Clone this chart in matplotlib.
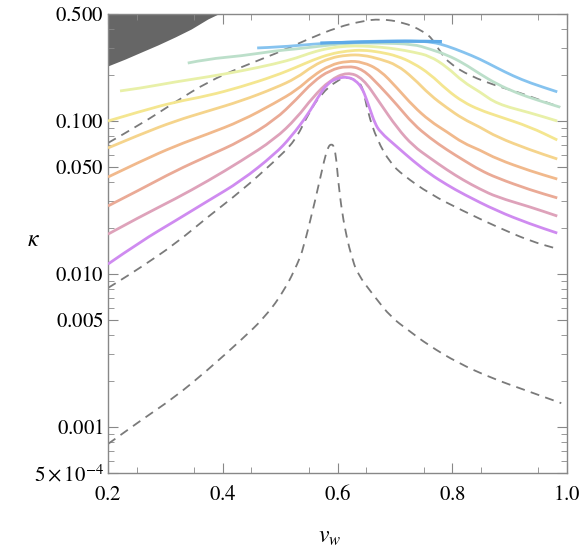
import numpy as np
import matplotlib
matplotlib.use("Agg")
import matplotlib.pyplot as plt
from matplotlib.ticker import FixedLocator, NullFormatter
from matplotlib.path import Path
from matplotlib.patches import PathPatch

plt.rcParams['mathtext.fontset'] = 'stix'
plt.rcParams['font.family'] = ['STIXGeneral', 'DejaVu Serif']

# ---------------- data ----------------
shade_x = [0.200, 0.230, 0.258, 0.287, 0.317, 0.345, 0.374, 0.392]
shade_y = [0.229, 0.254, 0.282, 0.314, 0.354, 0.399, 0.464, 0.500]

dash_up_x = [0.200, 0.258, 0.317, 0.374, 0.432, 0.491, 0.549, 0.601, 0.644, 0.674, 0.714, 0.749, 0.766, 0.779, 0.796, 0.831, 0.878, 0.913, 0.948, 0.988]
dash_up_y = [0.0718, 0.0955, 0.133, 0.180, 0.225, 0.274, 0.343, 0.411, 0.450, 0.464, 0.443, 0.387, 0.343, 0.282, 0.236, 0.197, 0.169, 0.155, 0.139, 0.123]

dash_mid_x = [0.200, 0.217, 0.258, 0.317, 0.374, 0.432, 0.491, 0.526, 0.549, 0.571, 0.600, 0.617, 0.634, 0.644, 0.653, 0.669, 0.692, 0.714, 0.761, 0.819, 0.878, 0.936, 0.983]
dash_mid_y = [0.0081, 0.00886, 0.0111, 0.0157, 0.0236, 0.0348, 0.0548, 0.0739, 0.111, 0.150, 0.185, 0.194, 0.183, 0.167, 0.113, 0.0751, 0.0531, 0.0443, 0.0333, 0.0258, 0.0203, 0.0164, 0.0146]

dash_low_x = [0.200, 0.258, 0.317, 0.374, 0.432, 0.474, 0.508, 0.531, 0.540, 0.561, 0.578, 0.584, 0.589, 0.594, 0.598, 0.601, 0.608, 0.617, 0.624, 0.634, 0.665, 0.693, 0.723, 0.758, 0.810, 0.868, 0.927, 0.990]
dash_low_y = [0.000774, 0.00111, 0.00157, 0.00236, 0.00370, 0.00523, 0.00785, 0.0118, 0.0145, 0.0300, 0.0581, 0.0680, 0.0707, 0.0685, 0.0560, 0.0411, 0.0250, 0.0167, 0.0133, 0.0101, 0.00707, 0.00523, 0.00430, 0.00343, 0.00262, 0.00209, 0.00174, 0.00143]

lightblue_x = [0.460, 0.500, 0.557, 0.617, 0.674, 0.732, 0.766, 0.791, 0.819, 0.848, 0.878, 0.906, 0.936, 0.983]
lightblue_y = [0.300, 0.304, 0.318, 0.328, 0.333, 0.333, 0.328, 0.309, 0.282, 0.254, 0.222, 0.197, 0.177, 0.155]

blue_x = [0.570, 0.650, 0.720, 0.782]
blue_y = [0.323, 0.328, 0.333, 0.330]

green_x = [0.339, 0.374, 0.432, 0.491, 0.526, 0.557, 0.617, 0.674, 0.732, 0.761, 0.791, 0.819, 0.848, 0.878, 0.913, 0.948, 0.988]
green_y = [0.239, 0.254, 0.266, 0.287, 0.295, 0.304, 0.323, 0.323, 0.318, 0.295, 0.270, 0.239, 0.203, 0.174, 0.152, 0.137, 0.123]

ygreen_x = [0.221, 0.258, 0.317, 0.374, 0.432, 0.491, 0.529, 0.557, 0.587, 0.617, 0.644, 0.674, 0.704, 0.732, 0.761, 0.791, 0.819, 0.848, 0.878, 0.936, 0.983]
ygreen_y = [0.157, 0.164, 0.180, 0.194, 0.212, 0.236, 0.258, 0.282, 0.300, 0.309, 0.309, 0.304, 0.295, 0.282, 0.266, 0.225, 0.180, 0.155, 0.129, 0.113, 0.0999]

yellow_x = [0.200, 0.258, 0.317, 0.374, 0.432, 0.491, 0.529, 0.557, 0.587, 0.617, 0.644, 0.674, 0.704, 0.732, 0.761, 0.791, 0.819, 0.848, 0.878, 0.936, 0.983]
yellow_y = [0.0999, 0.116, 0.133, 0.146, 0.167, 0.197, 0.225, 0.250, 0.274, 0.287, 0.291, 0.282, 0.266, 0.239, 0.203, 0.159, 0.133, 0.118, 0.108, 0.0913, 0.0751]

lorange_x = [0.200, 0.258, 0.317, 0.374, 0.432, 0.491, 0.529, 0.557, 0.587, 0.617, 0.644, 0.674, 0.704, 0.732, 0.761, 0.791, 0.819, 0.848, 0.878, 0.936, 0.983]
lorange_y = [0.0666, 0.0822, 0.0999, 0.116, 0.135, 0.164, 0.191, 0.229, 0.258, 0.270, 0.270, 0.254, 0.232, 0.191, 0.148, 0.1215, 0.103, 0.0913, 0.0785, 0.0646, 0.0564]

orange_x = [0.200, 0.258, 0.317, 0.374, 0.432, 0.491, 0.529, 0.557, 0.587, 0.617, 0.644, 0.674, 0.704, 0.732, 0.761, 0.791, 0.819, 0.848, 0.878, 0.936, 0.983]
orange_y = [0.0430, 0.0547, 0.0686, 0.0822, 0.0999, 0.131, 0.159, 0.197, 0.232, 0.2465, 0.243, 0.215, 0.164, 0.125, 0.0999, 0.0847, 0.0717, 0.0646, 0.0564, 0.0471, 0.0417]

salmon_x = [0.200, 0.258, 0.317, 0.374, 0.432, 0.491, 0.529, 0.557, 0.587, 0.617, 0.644, 0.674, 0.704, 0.732, 0.761, 0.791, 0.819, 0.848, 0.878, 0.936, 0.983]
salmon_y = [0.0278, 0.0359, 0.0471, 0.0590, 0.0740, 0.1015, 0.139, 0.180, 0.215, 0.229, 0.2185, 0.169, 0.127, 0.0955, 0.0774, 0.0646, 0.0556, 0.0478, 0.0424, 0.0354, 0.0314]

pink_x = [0.200, 0.258, 0.317, 0.374, 0.432, 0.491, 0.529, 0.557, 0.587, 0.617, 0.644, 0.674, 0.704, 0.732, 0.761, 0.791, 0.819, 0.848, 0.878, 0.936, 0.983]
pink_y = [0.0182, 0.0239, 0.0309, 0.0405, 0.0547, 0.0762, 0.1045, 0.143, 0.185, 0.209, 0.191, 0.131, 0.0899, 0.0686, 0.0573, 0.0478, 0.0411, 0.0359, 0.0318, 0.0274, 0.0239]

purple_x = [0.200, 0.258, 0.317, 0.374, 0.432, 0.491, 0.519, 0.549, 0.566, 0.583, 0.601, 0.617, 0.631, 0.643, 0.651, 0.657, 0.665, 0.674, 0.704, 0.732, 0.761, 0.791, 0.819, 0.878, 0.936, 0.983]
purple_y = [0.0116, 0.0164, 0.0222, 0.0300, 0.0405, 0.0608, 0.0785, 0.111, 0.143, 0.177, 0.191, 0.194, 0.185, 0.164, 0.137, 0.118, 0.097, 0.0847, 0.0676, 0.0547, 0.0450, 0.0382, 0.0333, 0.0258, 0.0212, 0.0185]

ytick_vals = [0.0005, 0.001, 0.005, 0.01, 0.05, 0.1, 0.5]
ytick_labels = [r'$\mathit{5}\times\mathit{10}^{\mathit{-4}}$', r'$\mathit{0.001}$', r'$\mathit{0.005}$',
                r'$\mathit{0.010}$', r'$\mathit{0.050}$', r'$\mathit{0.100}$', r'$\mathit{0.500}$']
xtick_vals = [0.2, 0.4, 0.6, 0.8, 1.0]
xtick_labels = [r'$\mathit{0.2}$', r'$\mathit{0.4}$', r'$\mathit{0.6}$', r'$\mathit{0.8}$', r'$\mathit{1.0}$']


def smooth_curve(ax, xs, ys, **kw):
    """Draw a curve through the read points as a chain of quadratic Bezier
    segments (control points = the points, joints at midpoints in log-y)."""
    xs = np.asarray(xs, float)
    ys = np.asarray(ys, float)
    verts = [(xs[0], ys[0])]
    codes = [Path.MOVETO]
    n = len(xs)
    for i in range(1, n - 1):
        mx = 0.5 * (xs[i] + xs[i + 1])
        my = np.sqrt(ys[i] * ys[i + 1])
        verts += [(xs[i], ys[i]), (mx, my)]
        codes += [Path.CURVE3, Path.CURVE3]
    verts.append((xs[-1], ys[-1]))
    codes.append(Path.LINETO)
    patch = PathPatch(Path(verts, codes), fill=False, **kw)
    ax.add_patch(patch)
    return patch


# ---------------- figure ----------------
fig = plt.figure(figsize=(5.81, 5.47), dpi=100)
ax = fig.add_axes([108/581, 1-473/547, 459/581, 459/547])
ax.set_yscale('log')
ax.set_xlim(0.2, 1.0)
ax.set_ylim(0.0005, 0.5)

ax.fill_between(shade_x, shade_y, 0.5, color='#666666', lw=0, zorder=1)

dash_kw = dict(edgecolor='#7a7a7a', lw=1.3, linestyle=(0, (5, 3.5)), zorder=2)
smooth_curve(ax, dash_up_x, dash_up_y, **dash_kw)
smooth_curve(ax, dash_mid_x, dash_mid_y, **dash_kw)
smooth_curve(ax, dash_low_x, dash_low_y, **dash_kw)

lw = 2.0
series = [
    (lightblue_x, lightblue_y, '#86c3ef'),
    (green_x, green_y, '#bcdfca'),
    (ygreen_x, ygreen_y, '#e8f0a8'),
    (yellow_x, yellow_y, '#f4e690'),
    (lorange_x, lorange_y, '#f5d48c'),
    (orange_x, orange_y, '#f1b98c'),
    (salmon_x, salmon_y, '#eaaa96'),
    (pink_x, pink_y, '#dea2ba'),
    (purple_x, purple_y, '#cf8bf0'),
]
for xs, ys, c in series:
    smooth_curve(ax, xs, ys, edgecolor=c, lw=lw, capstyle='butt', joinstyle='round', zorder=3)
smooth_curve(ax, blue_x, blue_y, edgecolor='#5eaae8', lw=2.3, capstyle='butt', zorder=4)

# ticks
ax.set_yticks(ytick_vals)
ax.set_yticklabels(ytick_labels, fontsize=15)
minor_y = []
for dec in [0.0001, 0.001, 0.01, 0.1]:
    for m in range(2, 10):
        v = m * dec
        if 0.0005 < v < 0.5 and not any(abs(v - t) < 1e-12 for t in ytick_vals):
            minor_y.append(v)
ax.yaxis.set_minor_locator(FixedLocator(minor_y))
ax.yaxis.set_minor_formatter(NullFormatter())
ax.set_xticks(xtick_vals)
ax.set_xticklabels(xtick_labels, fontsize=15)
ax.xaxis.set_minor_locator(FixedLocator(np.arange(0.25, 1.0, 0.1)))

ax.tick_params(which='both', direction='in', top=True, right=True, color='#888888')
ax.tick_params(which='major', length=7, width=0.8, pad=3)
ax.tick_params(which='minor', length=4, width=0.6)
ax.tick_params(axis='x', pad=9)
for s in ax.spines.values():
    s.set_color('#888888')
    s.set_linewidth(1.0)

fig.text(330/581, 1-537/547, r'$v_w$', fontsize=17, ha='center', va='center')
fig.text(33/581, 1-240/547, r'$\kappa$', fontsize=17, ha='center', va='center')

fig.savefig('out.png', dpi=100)
